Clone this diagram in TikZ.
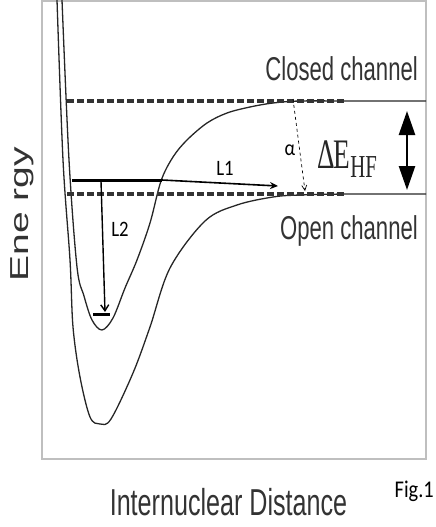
\documentclass[tikz,border=0pt]{standalone}
\usepackage{fontspec}
\setmainfont{Liberation Sans}
\newfontfamily\chanfont[FakeStretch=0.67]{Liberation Sans}
\newfontfamily\energyfont[FakeStretch=1.5]{Liberation Sans}
\newfontfamily\tagfont[FakeStretch=0.85]{Carlito}
\newfontfamily\gapfont[FakeStretch=0.65]{Liberation Serif}
\usetikzlibrary{arrows.meta}
\begin{document}
\begin{tikzpicture}[x=1pt,y=-1pt,
  curve/.style={line width=1.3pt,black!85},
  level/.style={line width=3.5pt,black!80,dash pattern=on 7pt off 3pt},
  chan/.style={inner sep=0pt,font=\chanfont\fontsize{33}{36}\selectfont,black!80},
  tag/.style={inner sep=0pt,font=\tagfont\fontsize{22}{24}\selectfont}]
  \useasboundingbox (0,0) rectangle (436,527);
  \draw[gray!50,line width=1.5pt] (42,1) rectangle (426,459);
  \draw[curve] plot[smooth,tension=0.55] coordinates {(62,0) (69,160) (77,267) (84,296) (92,320) (102,330) (113,318) (125,288) (137,260) (150,223) (161,181) (173,157) (187,140) (207,123) (227,113) (250,107) (273,103) (300,101) (350,101) (426,101)};
  \draw[curve] plot[smooth,tension=0.55] coordinates {(57,0) (63,160) (70,260) (73,327) (80,377) (90,417) (100,424) (111,419) (133,373) (150,327) (170,268) (205,221) (237,205) (273,197) (300,195) (350,194) (426,194)};
  \coordinate (c0) at (67,101); \coordinate (c1) at (347,101);
  \coordinate (o0) at (67,194); \coordinate (o1) at (347,194);
  \coordinate (b0) at (72,180); \coordinate (b1) at (162,180);
  \coordinate (l1) at (278,186); \coordinate (l2) at (105,312);
  \coordinate (m0) at (93,314); \coordinate (m1) at (110,314);
  \coordinate (a0) at (293,99); \coordinate (a1) at (305,191);
  \coordinate (d0) at (407,111); \coordinate (d1) at (407,190);
  \draw[level] (c0) -- (c1);
  \draw[level] (o0) -- (o1);
  \draw[line width=3pt] (b0) -- (b1);
  \draw[line width=1.6pt,-{Stealth[length=8pt,width=7pt]}] (b1) -- (l1);
  \draw[line width=1.4pt,-{Straight Barb[length=6pt,width=8pt]}] (101,181) -- (l2);
  \draw[line width=3pt] (m0) -- (m1);
  \draw[line width=0.7pt,dashed,-{Straight Barb[length=5pt,width=5pt]}] (a0) -- (a1);
  \draw[line width=2.5pt,{Triangle[length=24pt,width=16pt]}-{Triangle[length=24pt,width=16pt]}] (d0) -- (d1);
  \node[chan,anchor=base east] (closed) at (418,80) {Closed channel};
  \node[chan,anchor=base east] (open) at (418,239) {Open channel};
  \node[tag,anchor=base] (L1) at (225,175) {L1};
  \node[tag,anchor=base] (L2) at (120,236) {L2};
  \node[tag,anchor=base] (alpha) at (290,155) {α};
  \node[inner sep=0pt,anchor=base west,font=\gapfont\fontsize{42}{44}\selectfont,black!85] (gap) at (317,168) {Δ\kern-1pt E\raisebox{-9pt}{\fontsize{32}{34}\selectfont HF}};
  \node[inner sep=0pt,anchor=base,rotate=90,font=\energyfont\fontsize{26}{28}\selectfont,black!80] (energy) at (28,214) {Ene rgy};
  \node[inner sep=0pt,anchor=base,font=\chanfont\fontsize{37.5}{40}\selectfont,black!80] (dist) at (228.5,515) {Internuclear Distance};
  \node[tag,anchor=base east,font=\tagfont\fontsize{24}{26}\selectfont] (fig) at (434,497) {Fig.1};
\end{tikzpicture}
\end{document}
